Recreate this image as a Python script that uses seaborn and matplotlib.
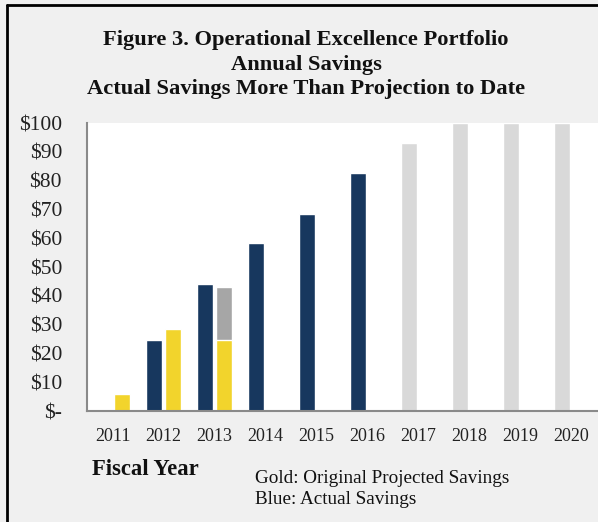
import numpy as np
import pandas as pd
import matplotlib.pyplot as plt
import seaborn as sns
from matplotlib.lines import Line2D

sns.set_style("white")
plt.rcParams["font.family"] = ["Liberation Serif", "DejaVu Serif"]

# Valores (milhoes de dolares)
years = ["2011", "2012", "2013", "2014", "2015", "2016", "2017", "2018", "2019", "2020"]
actual = [np.nan, 24.5, 44, 58.3, 68.5, 82.5, np.nan, np.nan, np.nan, np.nan]
projected = [6, 28.5, 24.5, np.nan, np.nan, np.nan, np.nan, np.nan, np.nan, np.nan]
revised = [np.nan, np.nan, 43, np.nan, np.nan, np.nan, np.nan, np.nan, np.nan, np.nan]
forecast = [np.nan, np.nan, np.nan, np.nan, np.nan, np.nan, 93, 100, 100, 100]
yticks = [0, 10, 20, 30, 40, 50, 60, 70, 80, 90, 100]
ytick_labels = ["$-"] + ["$%d" % v for v in yticks[1:]]

blue = "#17375e"
gold = "#f2d42c"
mid_gray = "#a6a6a6"
light_gray = "#d9d9d9"

# camada de fundo (cinza) e camada da frente (azul / dourado)
back = pd.DataFrame({
    "year": years * 2,
    "slot": ["left"] * 10 + ["right"] * 10,
    "value": forecast + revised,
}).dropna()
front = pd.DataFrame({
    "year": years * 2,
    "slot": ["left"] * 10 + ["right"] * 10,
    "value": actual + projected,
}).dropna()

fig = plt.figure(figsize=(5.98, 5.22), dpi=100, facecolor="#f0f0f0")
ax = fig.add_axes([0.1455, 0.2126, 0.8545, 0.5517])
ax.set_facecolor("white")

common = dict(x="year", y="value", hue="slot", order=years, hue_order=["left", "right"],
              dodge=True, width=0.745, gap=0.167, errorbar=None, legend=False,
              saturation=1, ax=ax)
sns.barplot(data=back, palette={"left": light_gray, "right": mid_gray}, **common)
sns.barplot(data=front, palette={"left": blue, "right": gold}, **common)

ax.set_xlim(-0.5, 9.52)
ax.set_ylim(0, 100)
ax.set_yticks(yticks)
ax.set_yticklabels(ytick_labels, fontsize=15.5, color="#222222")
ax.set_xticks(range(len(years)))
ax.set_xticklabels(years, fontsize=13, color="#222222")
ax.set_xlabel("")
ax.set_ylabel("")
ax.tick_params(axis="y", length=5, width=1.2, color="#8a8a8a", direction="out", pad=13)
ax.tick_params(axis="x", length=0, pad=12)
for side in ["top", "right"]:
    ax.spines[side].set_visible(False)
for side in ["left", "bottom"]:
    ax.spines[side].set_color("#8a8a8a")
    ax.spines[side].set_linewidth(1.5)

fig.text(0.512, 0.8755, "Figure 3. Operational Excellence Portfolio\nAnnual Savings\nActual Savings More Than Projection to Date",
         ha="center", va="center", fontsize=16.2, fontweight="bold", linespacing=1.3, color="#111111")
fig.text(0.154, 0.100, "Fiscal Year", ha="left", va="center", fontsize=16.3, fontweight="bold", color="#111111")
fig.text(0.427, 0.063, "Gold: Original Projected Savings\nBlue: Actual Savings",
         ha="left", va="center", fontsize=13.8, linespacing=1.35, color="#111111")

# moldura (esquerda e topo)
fig.add_artist(Line2D([0.0125, 0.0125], [0, 0.990], color="black", linewidth=2, transform=fig.transFigure))
fig.add_artist(Line2D([0.0125, 1.0], [0.990, 0.990], color="black", linewidth=2, transform=fig.transFigure))

fig.savefig("out.png", dpi=100, facecolor=fig.get_facecolor())
